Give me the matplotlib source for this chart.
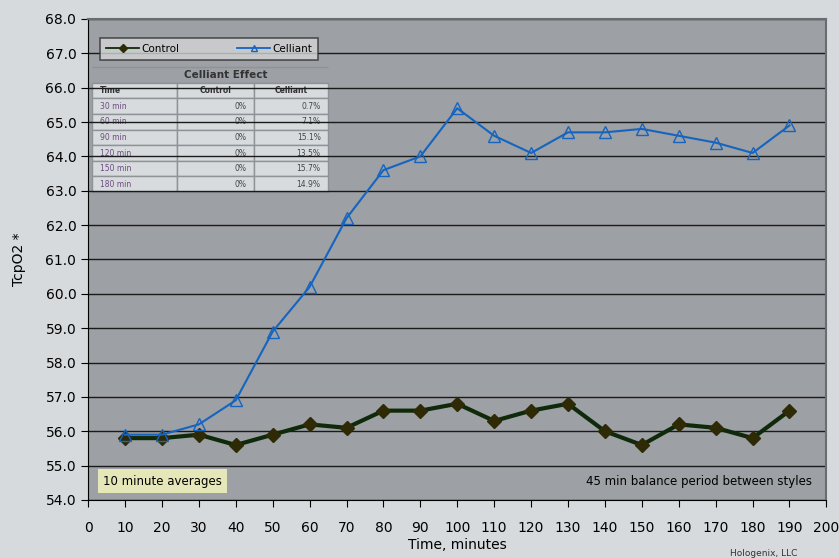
import matplotlib.pyplot as plt

minutes = [10, 20, 30, 40, 50, 60, 70, 80, 90, 100,
           110, 120, 130, 140, 150, 160, 170, 180, 190]
control = [55.8, 55.8, 55.9, 55.6, 55.9, 56.2, 56.1, 56.6, 56.6, 56.8,
           56.3, 56.6, 56.8, 56.0, 55.6, 56.2, 56.1, 55.8, 56.6]
celliant = [55.9, 55.9, 56.2, 56.9, 58.9, 60.2, 62.2, 63.6, 64.0, 65.4,
            64.6, 64.1, 64.7, 64.7, 64.8, 64.6, 64.4, 64.1, 64.9]

table_times = ["30 min", "60 min", "90 min", "120 min", "150 min", "180 min"]
table_control = ["0%", "0%", "0%", "0%", "0%", "0%"]
table_celliant = ["0.7%", "7.1%", "15.1%", "13.5%", "15.7%", "14.9%"]

plt.rcParams['font.family'] = ['DejaVu Sans']

fig = plt.figure(figsize=(8.39, 5.58), dpi=100)
fig.patch.set_facecolor('#d7dadd')
ax = fig.add_axes([0.105, 0.104, 0.880, 0.862])
ax.set_facecolor('#9da0a4')

ax.set_xlim(0, 200)
ax.set_ylim(54, 68)
ax.set_xticks(range(0, 201, 10))
ax.set_yticks([54 + i for i in range(15)])
ax.set_yticklabels([f"{54 + i:.1f}" for i in range(15)])
ax.tick_params(axis='both', direction='out', length=5, labelsize=10,
               color='black')
ax.tick_params(axis='x', pad=10)
ax.grid(axis='y', color='#1a1a1a', linewidth=1.0)
ax.set_axisbelow(True)
for side in ['top', 'right']:
    ax.spines[side].set_color('#6a6d70')
    ax.spines[side].set_linewidth(1.5)
ax.spines['left'].set_color('black')
ax.spines['bottom'].set_color('black')

ax.plot(minutes, control, color='#0f2a0a', linewidth=3, marker='D',
        markersize=7.5, markerfacecolor='#2d2a05', markeredgecolor='#2d2a05',
        label='Control', zorder=3)
ax.plot(minutes, celliant, color='#1565c0', linewidth=1.5, marker='^',
        markersize=8, markerfacecolor='none', markeredgecolor='#1565c0',
        label='Celliant', zorder=4)

ax.set_xlabel('Time, minutes', fontsize=10, labelpad=2)
ax.set_ylabel('TcpO2 *', fontsize=10, labelpad=14)

leg = ax.legend(loc='upper left', bbox_to_anchor=(0.016, 0.961), ncol=2,
                fontsize=7.5, frameon=True, fancybox=False, handlelength=3.2,
                columnspacing=5.5, borderpad=0.6, markerscale=0.5,
                handletextpad=0.2, borderaxespad=0)
leg.get_frame().set_facecolor('#d2d4d6')
leg.get_frame().set_edgecolor('#333333')
leg.get_frame().set_linewidth(1.2)
for line in leg.get_lines():
    line.set_linewidth(1.3)

# inset summary table
cells = [["", "Celliant Effect", ""], ["Time", "Control", "Celliant"]]
for t, c, e in zip(table_times, table_control, table_celliant):
    cells.append([t, c, e])
tab = ax.table(cellText=cells, colWidths=[0.115, 0.105, 0.1],
               bbox=[0.005, 0.64, 0.32, 0.26], cellLoc='right')
tab.auto_set_font_size(False)
tab.set_fontsize(5.5)
for (r, c), cell in tab.get_celld().items():
    cell.set_facecolor('#d8dbde')
    cell.set_edgecolor('#8f9296')
    cell.set_linewidth(1)
    txt = cell.get_text()
    if r == 0:
        txt.set_fontweight('bold')
        txt.set_fontsize(7.5)
        txt.set_color('#333333')
        cell.visible_edges = 'TB'
        if c == 1:
            txt.set_ha('left')
    elif r == 1:
        txt.set_fontweight('bold')
        txt.set_color('#333333')
        txt.set_ha('center' if c else 'left')
    else:
        if c == 0:
            txt.set_ha('left')
            txt.set_color('#6b4a80')
        else:
            txt.set_color('#444444')

ax.text(4, 54.55, '10 minute averages', fontsize=8.5, va='center',
        bbox=dict(boxstyle='square,pad=0.45', facecolor='#e6e7b8',
                  edgecolor='none'))
ax.text(196, 54.55, '45 min balance period between styles', fontsize=8.5,
        va='center', ha='right')
fig.text(0.87, 0.003, 'Hologenix, LLC', fontsize=6.5, color='#333333')

fig.savefig('out.png', dpi=100, facecolor=fig.get_facecolor())
